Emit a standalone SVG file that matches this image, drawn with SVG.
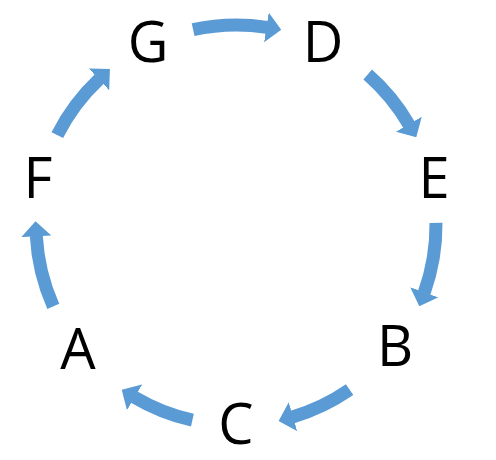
<svg xmlns="http://www.w3.org/2000/svg" width="496" height="460" viewBox="0 0 496 460">
<style>
.lbl{font-family:"Open Sans","Liberation Sans",sans-serif;font-size:56px;fill:#000;text-anchor:middle}
.arc{fill:none;stroke:#5B9BD5;stroke-width:13;marker-end:url(#head)}
</style>
<defs>
<marker id="head" markerUnits="userSpaceOnUse" viewBox="0 -15 15 30" markerWidth="15" markerHeight="30" refX="0.5" refY="0" orient="auto">
<path d="M0,-15 L15,0 L0,15 Z" fill="#5B9BD5"/>
</marker>
</defs>
<rect width="496" height="460" fill="#fff"/>
<g id="connectors">
<path class="arc" d="M193.1,29.7 A200,200 0 0 1 266.9,27.4"/>
<path class="arc" d="M367.7,74.5 A200,200 0 0 1 409.0,124.7"/>
<path class="arc" d="M436.0,222.9 A200,200 0 0 1 424.2,292.7"/>
<path class="arc" d="M349.6,389.6 A200,200 0 0 1 292.5,416.9"/>
<path class="arc" d="M192.4,420.2 A200,200 0 0 1 134.2,397.1"/>
<path class="arc" d="M53.3,306.3 A200,200 0 0 1 36.3,235.8"/>
<path class="arc" d="M57.3,135.1 A200,200 0 0 1 99.3,79.0"/>
</g>
<g id="node-G"><text class="lbl" x="148" y="62">G</text></g>
<g id="node-D"><text class="lbl" x="323" y="62">D</text></g>
<g id="node-E"><text class="lbl" x="434" y="198">E</text></g>
<g id="node-B"><text class="lbl" x="395" y="366">B</text></g>
<g id="node-C"><text class="lbl" x="236" y="444">C</text></g>
<g id="node-A"><text class="lbl" x="78" y="369">A</text></g>
<g id="node-F"><text class="lbl" x="38" y="198">F</text></g>
</svg>
